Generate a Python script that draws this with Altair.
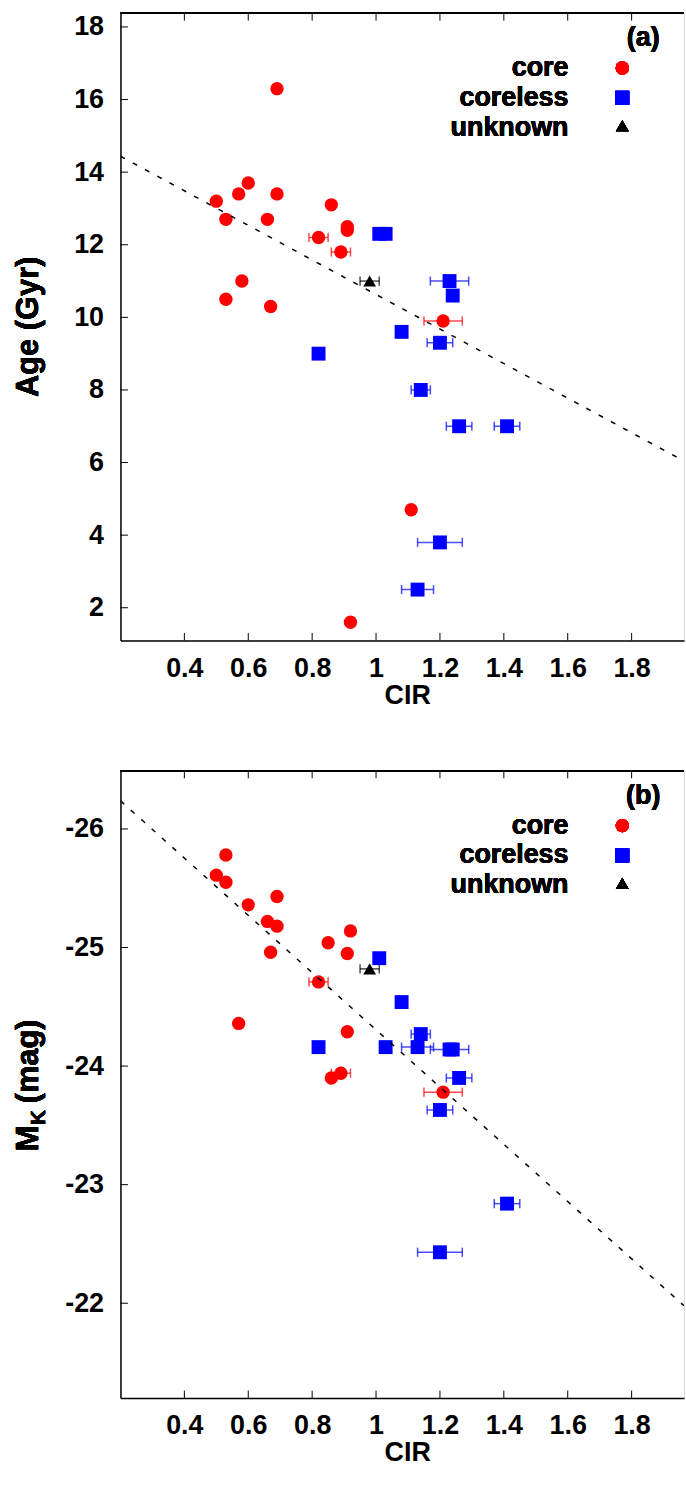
import altair as alt
import pandas as pd

# ---------------- data ----------------
# Panel (a): Age (Gyr) vs CIR
A_CORE_CIR = [0.69, 0.60, 0.57, 0.69, 0.50, 0.86, 0.53, 0.66, 0.91, 0.91, 0.82, 0.89, 0.58, 0.53, 0.67, 1.21, 1.11, 0.92]
A_CORE_VAL = [16.3, 13.7, 13.4, 13.4, 13.2, 13.1, 12.7, 12.7, 12.5, 12.4, 12.2, 11.8, 11.0, 10.5, 10.3, 9.9, 4.7, 1.6]
A_CORE_ERR = [0, 0, 0, 0, 0, 0, 0, 0, 0, 0, 0.03, 0.03, 0, 0, 0, 0.06, 0, 0]

A_CORELESS_CIR = [1.01, 1.03, 1.23, 1.24, 1.08, 1.20, 0.82, 1.14, 1.26, 1.41, 1.20, 1.13]
A_CORELESS_VAL = [12.3, 12.3, 11.0, 10.6, 9.6, 9.3, 9.0, 8.0, 7.0, 7.0, 3.8, 2.5]
A_CORELESS_ERR = [0, 0, 0.06, 0, 0, 0.04, 0, 0.03, 0.04, 0.04, 0.07, 0.05]

A_UNKNOWN_CIR = [0.98]
A_UNKNOWN_VAL = [11.0]
A_UNKNOWN_ERR = [0.03]

# Panel (b): M_K (mag) vs CIR
B_CORE_CIR = [0.53, 0.50, 0.53, 0.69, 0.60, 0.66, 0.69, 0.92, 0.85, 0.67, 0.91, 0.82, 0.57, 0.91, 0.86, 0.89, 1.21]
B_CORE_VAL = [-25.78, -25.61, -25.55, -25.43, -25.36, -25.22, -25.18, -25.14, -25.04, -24.96, -24.95, -24.71, -24.36, -24.29, -23.90, -23.94, -23.78]
B_CORE_ERR = [0, 0, 0, 0, 0, 0, 0, 0, 0, 0, 0, 0.03, 0, 0, 0, 0.03, 0.06]

B_CORELESS_CIR = [1.01, 1.08, 1.14, 0.82, 1.03, 1.13, 1.23, 1.24, 1.26, 1.20, 1.41, 1.20]
B_CORELESS_VAL = [-24.91, -24.54, -24.27, -24.16, -24.16, -24.16, -24.14, -24.14, -23.90, -23.63, -22.84, -22.43]
B_CORELESS_ERR = [0, 0, 0.03, 0, 0, 0.05, 0.06, 0, 0.04, 0.04, 0.04, 0.07]

B_UNKNOWN_CIR = [0.98]
B_UNKNOWN_VAL = [-24.82]
B_UNKNOWN_ERR = [0.03]

# dashed fit lines: value = intercept + slope * CIR
A_FIT = (15.39, -4.76)
B_FIT = (-26.72, 2.414)

X_DOMAIN = [0.2, 1.964]
X_TICKS = [0.4, 0.6, 0.8, 1.0, 1.2, 1.4, 1.6, 1.8]
A_Y_DOMAIN = [1.1, 18.38]
A_Y_TICKS = [2, 4, 6, 8, 10, 12, 14, 16, 18]
B_Y_DOMAIN = [-26.49, -21.2]
B_Y_TICKS = [-26, -25, -24, -23, -22]

SERIES = ["core", "coreless", "unknown"]

# ---------------- styling ----------------
FONT = "Liberation Sans"
FS = 27
W, H = 566, 630
COLORS = {"core": "#ff0000", "coreless": "#0000ff", "unknown": "#000000"}
SHAPES = {"core": "circle", "coreless": "square", "unknown": "triangle-up"}
SIZES = {"core": 180, "coreless": 195, "unknown": 165}
TXT = dict(font=FONT, fontSize=FS, fontWeight="bold", color="black")


def make_df(cir, val, err):
    df = pd.DataFrame({"cir": cir, "val": val, "err": err})
    df["lo"] = df["cir"] - df["err"]
    df["hi"] = df["cir"] + df["err"]
    return df


def panel(data, tag, ydom, yticks, fit, reverse, ytitle_parts):
    xs = alt.Scale(domain=X_DOMAIN, nice=False, zero=False)
    ys = alt.Scale(domain=ydom, nice=False, zero=False, reverse=reverse)
    xaxis = alt.Axis(values=X_TICKS, labelExpr="'' + datum.value", title="CIR",
                     grid=False, ticks=False, tickSize=0, domainColor="black",
                     domainWidth=1.5, labelFont=FONT, labelFontSize=FS,
                     labelFontWeight="bold", labelColor="black", labelPadding=15,
                     labelFlush=False, labelOverlap=False,
                     titleFont=FONT, titleFontSize=FS, titleFontWeight="bold",
                     titleColor="black", titleX=288, titleY=42,
                     titleBaseline="top", titleAlign="center")
    yaxis = alt.Axis(values=yticks, labelExpr="'' + datum.value", title=None,
                     grid=False, ticks=False, tickSize=0, domainColor="black",
                     domainWidth=1.5, labelFont=FONT, labelFontSize=FS,
                     labelFontWeight="bold", labelColor="black", labelPadding=17,
                     labelFlush=False, labelOverlap=False)

    layers = []
    for name in SERIES:
        df = data[name]
        c = COLORS[name]
        e = df[df["err"] > 0]
        if len(e):
            layers.append(
                alt.Chart(e).mark_rule(color=c, strokeWidth=1.5, opacity=0.7).encode(
                    x=alt.X("lo:Q", scale=xs, axis=xaxis), x2="hi:Q",
                    y=alt.Y("val:Q", scale=ys, axis=yaxis)))
            caps = pd.concat([e[["lo", "val"]].rename(columns={"lo": "cx"}),
                              e[["hi", "val"]].rename(columns={"hi": "cx"})])
            layers.append(
                alt.Chart(caps).mark_point(shape="M0,-1L0,1", size=85, filled=False,
                                           strokeWidth=1.5, color=c, opacity=0.7).encode(
                    x=alt.X("cx:Q", scale=xs, axis=xaxis),
                    y=alt.Y("val:Q", scale=ys, axis=yaxis)))
        layers.append(
            alt.Chart(df).mark_point(shape=SHAPES[name], size=SIZES[name], filled=True,
                                     color=c, opacity=1, strokeWidth=0).encode(
                x=alt.X("cir:Q", scale=xs, axis=xaxis),
                y=alt.Y("val:Q", scale=ys, axis=yaxis)))

    # dashed fit line
    fit_df = pd.DataFrame({"cir": X_DOMAIN,
                           "val": [fit[0] + fit[1] * v for v in X_DOMAIN]})
    layers.append(
        alt.Chart(fit_df).mark_line(color="black", strokeWidth=1.5,
                                    strokeDash=[5, 9], clip=True).encode(
            x=alt.X("cir:Q", scale=xs, axis=xaxis),
            y=alt.Y("val:Q", scale=ys, axis=yaxis)))

    # inward ticks (gnuplot style) and top frame
    yt = pd.DataFrame({"t": yticks})
    xt = pd.DataFrame({"t": X_TICKS})
    layers.append(alt.Chart(yt).mark_rule(color="black", strokeWidth=1).encode(
        y=alt.Y("t:Q", scale=ys, axis=yaxis), x=alt.value(0), x2=alt.value(7.5)))
    layers.append(alt.Chart(xt).mark_rule(color="black", strokeWidth=1).encode(
        x=alt.X("t:Q", scale=xs, axis=xaxis), y=alt.value(0), y2=alt.value(7.5)))
    layers.append(alt.Chart(xt).mark_rule(color="black", strokeWidth=1).encode(
        x=alt.X("t:Q", scale=xs, axis=xaxis), y=alt.value(H), y2=alt.value(H - 7.5)))
    layers.append(alt.Chart(xt).mark_rule(color="black", strokeWidth=1.5).encode(
        x=alt.value(0), x2=alt.value(W), y=alt.value(0)))

    # legend (labels right-aligned, symbols to the right)
    text_y = [63, 93, 123]
    sym_y = [55, 85, 113]
    for i, name in enumerate(SERIES):
        layers.append(alt.Chart(xt).mark_text(align="right", baseline="alphabetic", **TXT).encode(
            x=alt.value(450), y=alt.value(text_y[i]), text=alt.value(name)))
        layers.append(alt.Chart(xt).mark_point(shape=SHAPES[name], size=SIZES[name],
                                               filled=True, color=COLORS[name],
                                               opacity=1, strokeWidth=0).encode(
            x=alt.value(504), y=alt.value(sym_y[i])))
    layers.append(alt.Chart(xt).mark_text(align="center", baseline="alphabetic", **TXT).encode(
        x=alt.value(525), y=alt.value(33), text=alt.value(tag)))

    # rotated y title (pieces, to allow a subscript)
    for txt, size, dx, ypos, al in ytitle_parts:
        layers.append(alt.Chart(xt).mark_text(angle=270, align=al, baseline="middle",
                                              font=FONT, fontSize=size, fontWeight="bold",
                                              color="black").encode(
            x=alt.value(dx), y=alt.value(ypos), text=alt.value(txt)))

    return alt.layer(*layers).properties(width=W, height=H)


top = panel({"core": make_df(A_CORE_CIR, A_CORE_VAL, A_CORE_ERR),
             "coreless": make_df(A_CORELESS_CIR, A_CORELESS_VAL, A_CORELESS_ERR),
             "unknown": make_df(A_UNKNOWN_CIR, A_UNKNOWN_VAL, A_UNKNOWN_ERR)},
            "(a)", A_Y_DOMAIN, A_Y_TICKS, A_FIT, False,
            [("Age (Gyr)", 31, -92, 315, "center")])

bottom = panel({"core": make_df(B_CORE_CIR, B_CORE_VAL, B_CORE_ERR),
                "coreless": make_df(B_CORELESS_CIR, B_CORELESS_VAL, B_CORELESS_ERR),
                "unknown": make_df(B_UNKNOWN_CIR, B_UNKNOWN_VAL, B_UNKNOWN_ERR)},
               "(b)", B_Y_DOMAIN, B_Y_TICKS, B_FIT, True,
               [("M", 31, -92, 382, "left"), ("K", 21, -82, 356, "left"),
                ("(mag)", 31, -92, 334, "left")])

chart = alt.vconcat(top, bottom, spacing=60).properties(
    padding={"left": 12, "top": 8, "right": 0, "bottom": 0}
).configure_view(stroke=None).configure(font=FONT)

chart.save("out.html", embed_options={"renderer": "svg", "actions": False})
